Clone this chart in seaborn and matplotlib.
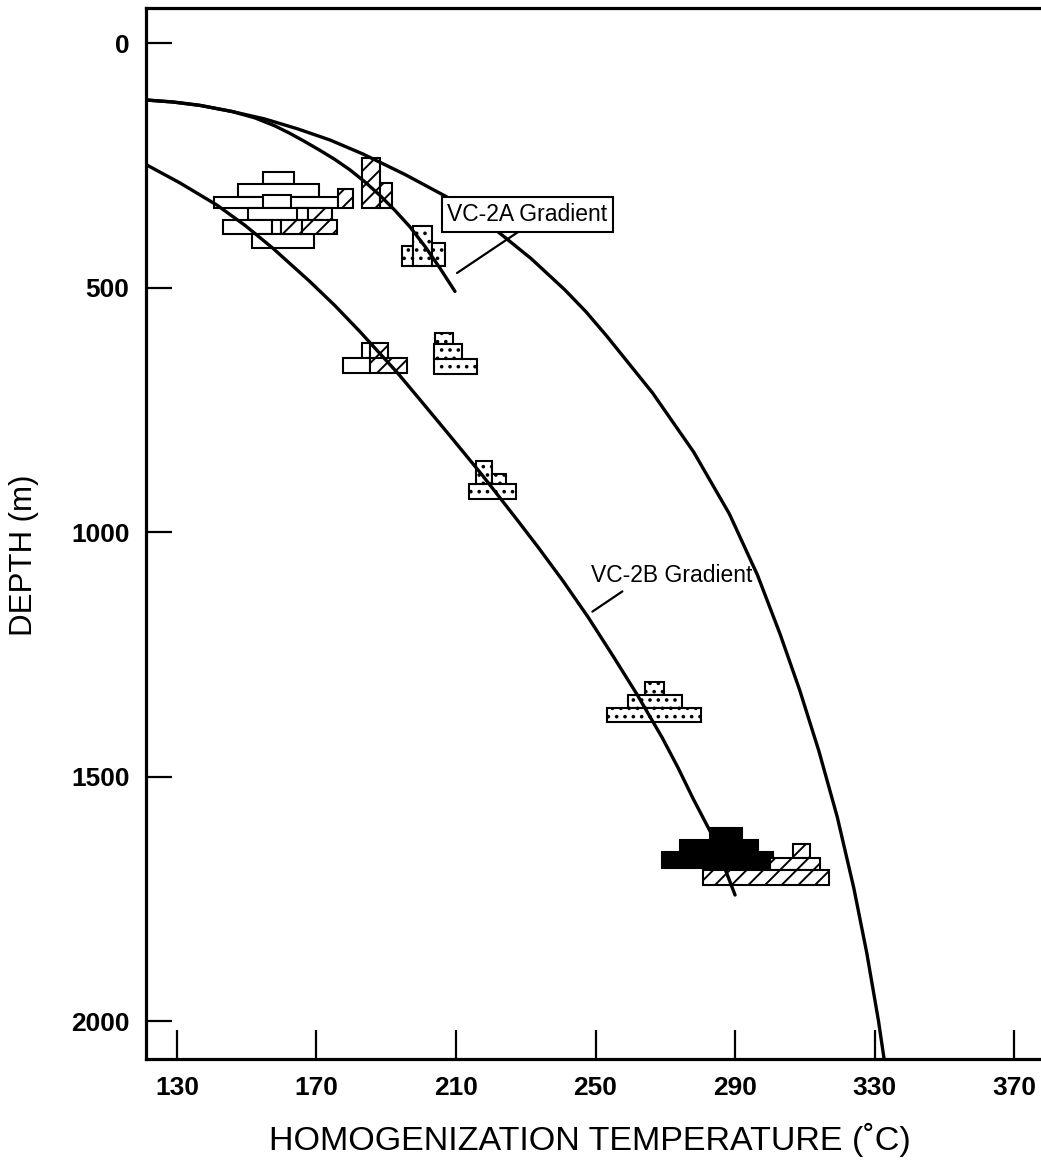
import matplotlib
matplotlib.use("Agg")
import matplotlib.pyplot as plt
import pandas as pd
import seaborn as sns

# ---- curves: temperature (deg C) vs depth (m) ----
boil_temp = [121.11, 128.85, 136.60, 145.77, 155.23, 164.70, 173.87, 183.33, 195.38,
             207.42, 221.76, 231.51, 241.25, 247.28, 253.21, 266.37, 278.13, 288.39,
             296.42, 302.90, 308.52, 314.03, 319.30, 324.04, 327.76, 331.12, 332.72]
boil_depth = [115.6, 119.7, 126.6, 139.1, 154.5, 174.9, 197.4, 226.1, 268.0,
              314.1, 383.6, 439.9, 504.3, 549.0, 598.5, 715.1, 835.8, 962.7,
              1087.5, 1208.2, 1322.8, 1447.6, 1582.6, 1727.9, 1860.9, 2000.0, 2077.7]

vc2a_temp = [121.11, 128.85, 136.60, 145.77, 152.37, 158.10, 162.40, 166.70, 171.00,
             175.30, 179.61, 183.91, 188.21, 192.51, 196.81, 201.11, 205.41, 209.71]
vc2a_depth = [115.6, 119.7, 126.6, 139.1, 152.2, 168.6, 183.9, 200.8, 218.6,
              237.3, 258.6, 283.2, 310.8, 341.5, 375.2, 415.1, 459.7, 507.2]

vc2b_temp = [120.82, 130.86, 141.47, 149.50, 157.53, 168.14, 175.30, 182.47, 193.37,
             200.82, 208.28, 217.46, 226.92, 233.51, 240.68, 247.85, 255.02, 261.90,
             269.07, 273.66, 277.96, 283.41, 290.00]
vc2b_depth = [246.5, 285.2, 330.6, 372.0, 419.0, 487.2, 536.3, 589.5, 675.0,
              738.6, 802.7, 882.5, 969.0, 1030.2, 1099.7, 1173.4, 1253.2, 1331.8,
              1419.7, 1481.9, 1544.8, 1619.4, 1742.2]

# ---- fluid-inclusion histogram boxes ----
box_t_lo = [154.6, 147.6, 140.6, 154.6, 150.4, 164.3, 143.3, 157.2, 151.4,
            176.3, 167.6, 159.7, 165.8,
            183.0, 188.2,
            194.4, 197.8, 203.0,
            183.0, 177.7, 185.3, 185.3,
            204.0, 203.8, 203.8,
            215.6, 220.4, 213.7,
            264.2, 259.2, 253.2,
            282.8, 274.2, 269.0,
            306.5, 300.0, 280.9]
box_t_hi = [163.6, 170.7, 176.3, 162.6, 167.6, 167.6, 157.2, 159.7, 169.4,
            180.6, 174.5, 165.8, 175.8,
            188.2, 191.6,
            197.8, 203.0, 206.8,
            185.3, 185.3, 190.6, 195.9,
            209.2, 211.6, 216.1,
            220.4, 224.3, 227.1,
            269.6, 274.7, 280.2,
            291.9, 296.7, 300.9,
            311.4, 314.4, 316.8]
box_d_top = [262.3, 287.5, 313.5, 310.0, 337.2, 337.2, 361.1, 361.1, 390.4,
             297.7, 337.2, 361.1, 361.1,
             234.9, 286.0,
             414.3, 373.4, 408.8,
             612.2, 642.9, 612.2, 642.9,
             591.7, 615.5, 646.1,
             853.6, 881.4, 901.9,
             1305.8, 1333.0, 1360.2,
             1605.7, 1629.7, 1653.6,
             1637.8, 1667.1, 1691.0]
box_d_bot = [287.5, 313.5, 337.2, 337.2, 361.1, 361.1, 390.4, 390.4, 419.0,
             337.2, 361.1, 390.4, 390.4,
             337.2, 337.2,
             455.2, 455.2, 455.2,
             642.9, 673.6, 642.9, 673.6,
             615.5, 646.1, 676.8,
             901.9, 901.9, 932.0,
             1333.0, 1360.2, 1387.6,
             1629.7, 1653.6, 1687.6,
             1667.1, 1691.0, 1721.7]
box_fill = (["open"] * 9 + ["hatch"] * 4 + ["hatch"] * 2 + ["dot"] * 3 +
            ["open", "open", "hatch", "hatch"] + ["dot"] * 3 + ["dot"] * 3 +
            ["dot"] * 3 + ["solid"] * 3 + ["hatch"] * 3)

x_ticks = [130, 170, 210, 250, 290, 330, 370]
y_ticks = [0, 500, 1000, 1500, 2000]

boxes = pd.DataFrame({"t_lo": box_t_lo, "t_hi": box_t_hi,
                      "d_top": box_d_top, "d_bot": box_d_bot, "fill": box_fill})
curves = pd.concat([
    pd.DataFrame({"temp": boil_temp, "depth": boil_depth, "curve": "boiling"}),
    pd.DataFrame({"temp": vc2a_temp, "depth": vc2a_depth, "curve": "VC-2A"}),
    pd.DataFrame({"temp": vc2b_temp, "depth": vc2b_depth, "curve": "VC-2B"}),
], ignore_index=True)

sns.set_theme(style="white")
plt.rcParams["font.family"] = ["Liberation Sans", "DejaVu Sans"]
plt.rcParams["text.color"] = "black"
plt.rcParams["axes.labelcolor"] = "black"
plt.rcParams["xtick.color"] = "black"
plt.rcParams["ytick.color"] = "black"
plt.rcParams["hatch.linewidth"] = 1.4
plt.rcParams["hatch.color"] = "black"

fig = plt.figure(figsize=(10.41, 11.64), dpi=100)
ax = fig.add_axes([145.5 / 1041, 1 - 1059 / 1164, 1 - 145.5 / 1041, 1051 / 1164])

styles = {
    "open": dict(facecolor="white", hatch=None),
    "hatch": dict(facecolor="white", hatch="//"),
    "dot": dict(facecolor="white", hatch=".."),
    "solid": dict(facecolor="black", hatch=None),
}
for _, b in boxes.iterrows():
    ax.bar(x=b.t_lo, height=b.d_bot - b.d_top, width=b.t_hi - b.t_lo,
           bottom=b.d_top, align="edge", edgecolor="black", linewidth=1.5,
           zorder=2, **styles[b.fill])

sns.lineplot(data=curves, x="temp", y="depth", units="curve", estimator=None,
             sort=False, color="black", linewidth=2.4, ax=ax, zorder=3)

# curve labels
ax.text(230.5, 350, "VC-2A Gradient", ha="center", va="center", fontsize=16.5,
        zorder=5,
        bbox=dict(boxstyle="square,pad=0.25", facecolor="white",
                  edgecolor="black", linewidth=1.5))
ax.plot([227.8, 210.3], [385.7, 469.6], color="black", lw=1.6, zorder=4)
ax.text(248.7, 1087.5, "VC-2B Gradient", ha="left", va="center", fontsize=16.5,
        zorder=5)
ax.plot([257.7, 249.1], [1121, 1162.4], color="black", lw=1.6, zorder=4)

ax.set_xlim(121.0, 377.7)
ax.set_ylim(2077.7, -72.6)
ax.set_xticks(x_ticks)
ax.set_yticks(y_ticks)
ax.set_xlabel("")
ax.set_ylabel("")
ax.tick_params(axis="x", direction="in", length=21, width=1.6, color="black",
               labelsize=19, pad=12, bottom=True, top=False)
ax.tick_params(axis="y", direction="in", length=19, width=1.6, color="black",
               labelsize=19, pad=11.5, left=True, right=False)
for lab in ax.get_xticklabels() + ax.get_yticklabels():
    lab.set_fontweight("bold")
for side in ["left", "top", "bottom"]:
    ax.spines[side].set_linewidth(2.3)
    ax.spines[side].set_color("black")
ax.spines["right"].set_visible(False)
ax.grid(False)

fig.text(590 / 1041, 1 - 1140 / 1164, "HOMOGENIZATION TEMPERATURE (˚C)",
         ha="center", va="center", fontsize=24.5)
fig.text(24 / 1041, 1 - 555 / 1164, "DEPTH (m)", ha="center", va="center",
         rotation=90, fontsize=22.5)

fig.savefig("out.png", dpi=100, facecolor="white")
